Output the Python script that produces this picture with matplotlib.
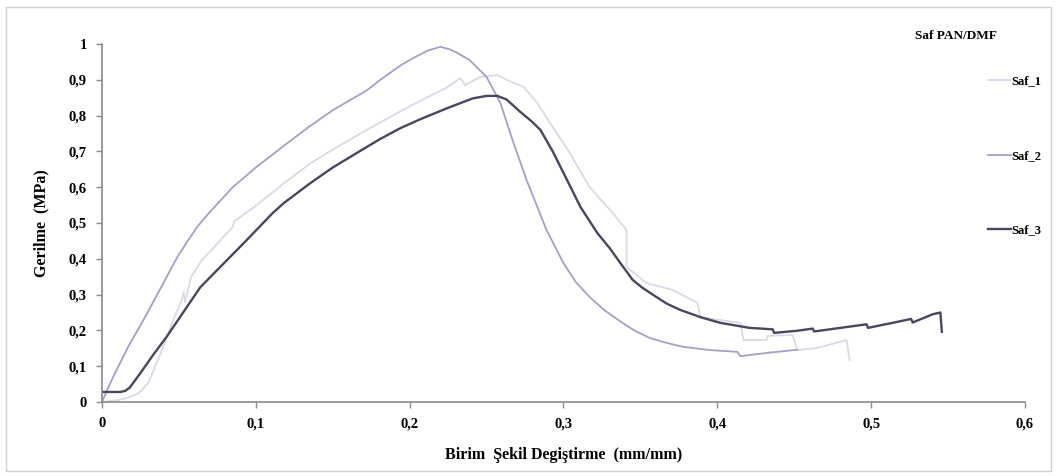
import matplotlib.pyplot as plt
from matplotlib.patches import Rectangle

# Saf_1 (light)
saf1_x = [0, 0.010, 0.017, 0.024, 0.030, 0.039, 0.047, 0.052, 0.053, 0.054, 0.058, 0.065,
          0.071, 0.085, 0.086, 0.100, 0.118, 0.135, 0.150, 0.172, 0.194, 0.210, 0.224, 0.233,
          0.236, 0.246, 0.257, 0.263, 0.274, 0.283, 0.293, 0.304, 0.317, 0.332, 0.341, 0.341,
          0.354, 0.371, 0.387, 0.389, 0.415, 0.417, 0.432, 0.433, 0.449, 0.452, 0.465, 0.484, 0.486]
saf1_y = [0, 0.005, 0.012, 0.025, 0.053, 0.145, 0.237, 0.285, 0.307, 0.280, 0.350, 0.397,
          0.424, 0.489, 0.505, 0.548, 0.610, 0.665, 0.705, 0.760, 0.812, 0.848, 0.878, 0.905,
          0.885, 0.908, 0.913, 0.900, 0.880, 0.835, 0.768, 0.696, 0.600, 0.528, 0.480, 0.377,
          0.332, 0.313, 0.277, 0.237, 0.221, 0.173, 0.173, 0.185, 0.187, 0.145, 0.151, 0.173, 0.117]

# Saf_2 (lavender)
saf2_x = [0, 0.004, 0.0085, 0.017, 0.028, 0.039, 0.049, 0.055, 0.062, 0.070, 0.085, 0.100,
          0.118, 0.135, 0.150, 0.172, 0.181, 0.194, 0.202, 0.212, 0.220, 0.226, 0.231, 0.239,
          0.250, 0.259, 0.267, 0.276, 0.283, 0.289, 0.300, 0.308, 0.317, 0.327, 0.337, 0.346,
          0.356, 0.367, 0.378, 0.395, 0.413, 0.415, 0.432, 0.452]
saf2_y = [0, 0.040, 0.081, 0.154, 0.237, 0.325, 0.405, 0.445, 0.490, 0.530, 0.600, 0.655,
          0.715, 0.770, 0.815, 0.870, 0.900, 0.940, 0.960, 0.982, 0.992, 0.985, 0.975, 0.955,
          0.908, 0.835, 0.730, 0.620, 0.545, 0.480, 0.388, 0.335, 0.293, 0.255, 0.225, 0.200,
          0.179, 0.165, 0.154, 0.145, 0.140, 0.128, 0.137, 0.146]

# Saf_3 (dark)
saf3_x = [0, 0.012, 0.015, 0.018, 0.025, 0.033, 0.042, 0.057, 0.064, 0.075, 0.094, 0.111,
          0.118, 0.135, 0.150, 0.172, 0.181, 0.194, 0.207, 0.224, 0.241, 0.250, 0.257, 0.263,
          0.272, 0.279, 0.285, 0.293, 0.300, 0.311, 0.322, 0.330, 0.337, 0.345, 0.351, 0.358,
          0.367, 0.376, 0.389, 0.402, 0.421, 0.436, 0.437, 0.452, 0.462, 0.463, 0.480, 0.497,
          0.498, 0.515, 0.526, 0.527, 0.540, 0.545, 0.546]
saf3_y = [0.028, 0.028, 0.031, 0.040, 0.081, 0.130, 0.182, 0.277, 0.321, 0.369, 0.452, 0.528,
          0.555, 0.610, 0.655, 0.712, 0.735, 0.765, 0.790, 0.820, 0.848, 0.855, 0.855, 0.845,
          0.810, 0.785, 0.760, 0.700, 0.640, 0.545, 0.472, 0.430, 0.388, 0.341, 0.320, 0.300,
          0.275, 0.257, 0.237, 0.221, 0.207, 0.203, 0.193, 0.199, 0.205, 0.197, 0.207, 0.217,
          0.207, 0.222, 0.232, 0.222, 0.245, 0.250, 0.196]

xticks = [0, 0.1, 0.2, 0.3, 0.4, 0.5, 0.6]
yticks = [0, 0.1, 0.2, 0.3, 0.4, 0.5, 0.6, 0.7, 0.8, 0.9, 1.0]

plt.rcParams['font.family'] = ['Liberation Serif', 'DejaVu Serif']
plt.rcParams['font.weight'] = 'bold'

fig = plt.figure(figsize=(10.56, 4.76), dpi=100)
ax = fig.add_axes([0.0966, 0.1555, 0.8740, 0.7521])

ax.plot(saf1_x, saf1_y, color='#dcd8e8', lw=1.3, label='Saf_1')
ax.plot(saf2_x, saf2_y, color='#a89dcc', lw=1.3, label='Saf_2')
ax.plot(saf3_x, saf3_y, color='#4a4560', lw=1.7, label='Saf_3')

ax.set_xlim(0, 0.6)
ax.set_ylim(0, 1)
ax.set_xticks(xticks)
ax.set_yticks(yticks)
ax.set_xticklabels([('%g' % v).replace('.', ',') for v in xticks], fontsize=10.5, fontweight='bold')
ax.set_yticklabels([('%g' % v).replace('.', ',') for v in yticks], fontsize=10.5, fontweight='bold')
for s in ['top', 'right']:
    ax.spines[s].set_visible(False)
for s in ['left', 'bottom']:
    ax.spines[s].set_color('#8a8a8a')
    ax.spines[s].set_linewidth(1.2)
ax.tick_params(colors='#8a8a8a', labelcolor='black', length=4, width=1.0, pad=7)

ax.set_xlabel('Birim  Şekil Degiştirme  (mm/mm)', fontsize=11.5, fontweight='bold', labelpad=12)
ax.set_ylabel('Gerilme  (MPa)', fontsize=11.5, fontweight='bold', labelpad=14)

fig.text(0.905, 0.925, 'Saf PAN/DMF', fontsize=9.5, fontweight='bold', ha='center', va='center')
leg = ax.legend(loc='upper left', bbox_to_anchor=(0.925, 0.865), bbox_transform=fig.transFigure,
                frameon=False, fontsize=9, handlelength=1.8, handletextpad=0.1,
                labelspacing=5.0)

fig.patches.append(Rectangle((0.006, 0.01), 0.989, 0.976, transform=fig.transFigure,
                             fill=False, edgecolor='#d0d0d0', lw=1.0))

plt.savefig('out.png', dpi=100)
